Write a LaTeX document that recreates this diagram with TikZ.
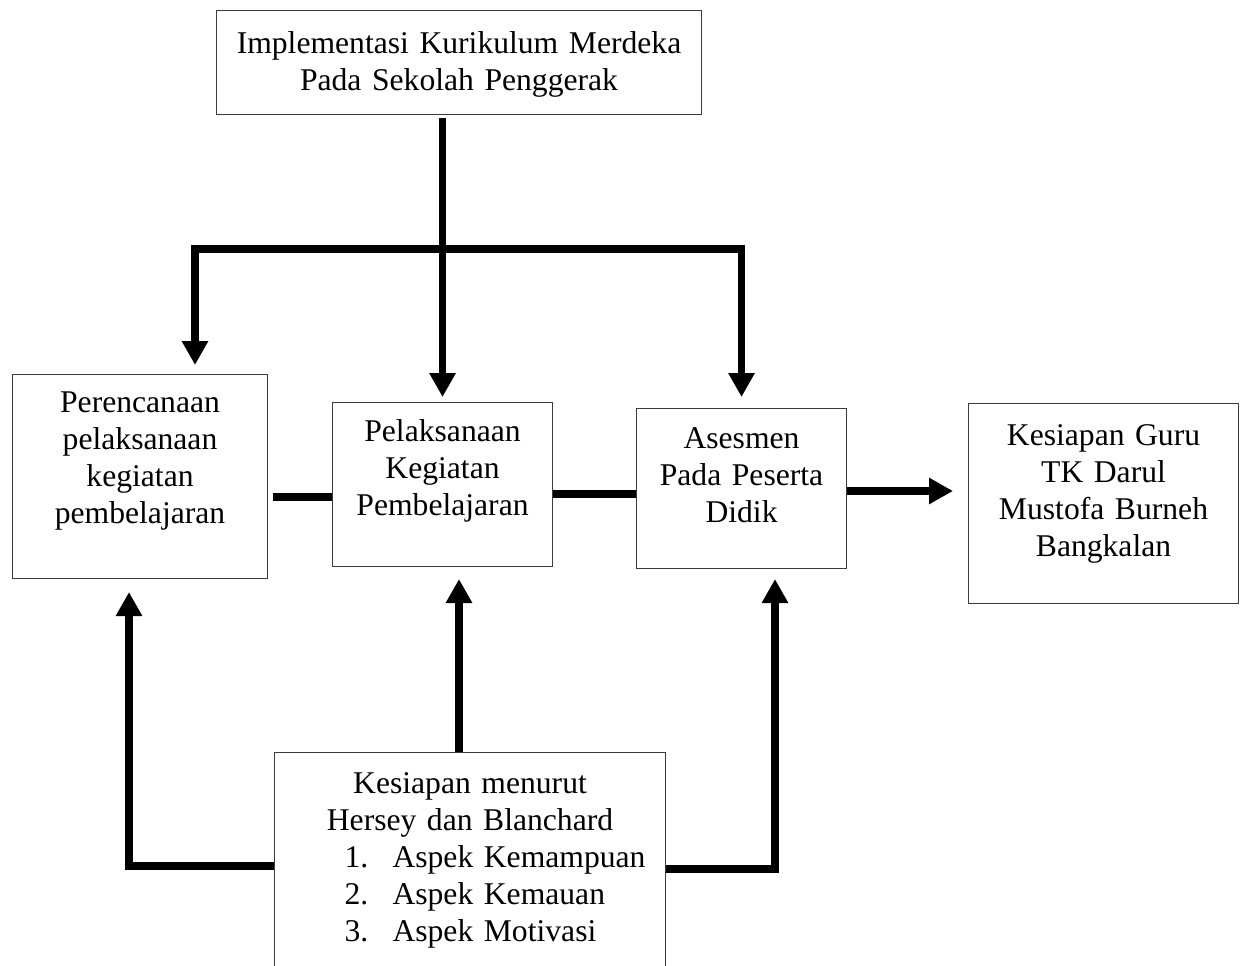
\documentclass[tikz,border=0pt]{standalone}
\usepackage{fontspec}
\setmainfont{Liberation Serif}
\usetikzlibrary{arrows.meta,positioning}

\begin{document}
\begin{tikzpicture}[
    box/.style={draw=boxline, line width=0.6pt, anchor=north west, align=center,
        inner xsep=0pt, inner ysep=0pt, font=\fontsize{18}{21}\selectfont},
    arr/.style={line width=4pt, -{Triangle[width=0.5cm,length=0.48cm]}},
    link/.style={line width=4pt}
]
    % warna
    \definecolor{boxline}{RGB}{60, 60, 60}

    \useasboundingbox (0,0) rectangle (24.86,-19.32);

    % kotak utama
    \node[box, text width=9.7cm, text height=0.86cm, text depth=1.22cm] (impl) at (4.32,-0.2)
        {Implementasi Kurikulum Merdeka\\Pada Sekolah Penggerak};

    \node[box, text width=5.1cm, text height=0.76cm, text depth=3.32cm] (rencana) at (0.24,-7.48)
        {Perencanaan\\pelaksanaan\\kegiatan\\pembelajaran};
    \node[box, text width=4.4cm, text height=0.78cm, text depth=2.5cm] (laksana) at (6.64,-8.04)
        {Pelaksanaan\\Kegiatan\\Pembelajaran};
    \node[box, text width=4.2cm, text height=0.8cm, text depth=2.4cm] (asesmen) at (12.72,-8.16)
        {Asesmen\\Pada Peserta\\Didik};
    \node[box, text width=5.4cm, text height=0.84cm, text depth=3.16cm] (guru) at (19.36,-8.06)
        {Kesiapan Guru\\TK Darul\\Mustofa Burneh\\Bangkalan};

    \node[box, text width=7.82cm, text height=0.82cm, text depth=4.0cm] (hersey) at (5.48,-15.04)
        {Kesiapan menurut\\Hersey dan Blanchard\\
         \makebox[7.82cm][l]{\hspace{1.4cm}\makebox[0.96cm][l]{1.}Aspek Kemampuan}\\
         \makebox[7.82cm][l]{\hspace{1.4cm}\makebox[0.96cm][l]{2.}Aspek Kemauan}\\
         \makebox[7.82cm][l]{\hspace{1.4cm}\makebox[0.96cm][l]{3.}Aspek Motivasi}};

    % titik bantu
    \coordinate (barY) at (0,-4.98);
    \coordinate (dropL) at (3.9,0);
    \coordinate (hub) at (laksana.north |- barY);
    \coordinate (lineA) at (0,-9.94);
    \coordinate (lineB) at (0,-9.88);
    \coordinate (lineC) at (0,-9.82);
    \coordinate (upL) at (2.58,-17.32);
    \coordinate (upM) at (9.18,0);
    \coordinate (upR) at (15.5,-17.38);

    % panah dari atas
    \draw[arr, shorten <=0.06cm, shorten >=0.1cm] (impl.south -| laksana.north) -- (laksana.north);
    \draw[arr, shorten >=0.18cm] (hub) -| (rencana.north -| dropL);
    \draw[arr, shorten >=0.22cm] (hub) -| (asesmen.north);

    % garis tengah
    \draw[link, shorten <=0.1cm] (rencana.east |- lineA) -- (laksana.west |- lineA);
    \draw[link] (laksana.east |- lineB) -- (asesmen.west |- lineB);
    \draw[arr, shorten >=0.3cm] (asesmen.east |- lineC) -- (guru.west |- lineC);

    % panah dari bawah
    \draw[arr, shorten >=0.26cm] (hersey.west |- upL) -| (rencana.south -| upL);
    \draw[arr, shorten >=0.24cm] (hersey.north -| upM) -- (laksana.south -| upM);
    \draw[arr, shorten >=0.2cm] (hersey.east |- upR) -| (asesmen.south -| upR);
\end{tikzpicture}
\end{document}
